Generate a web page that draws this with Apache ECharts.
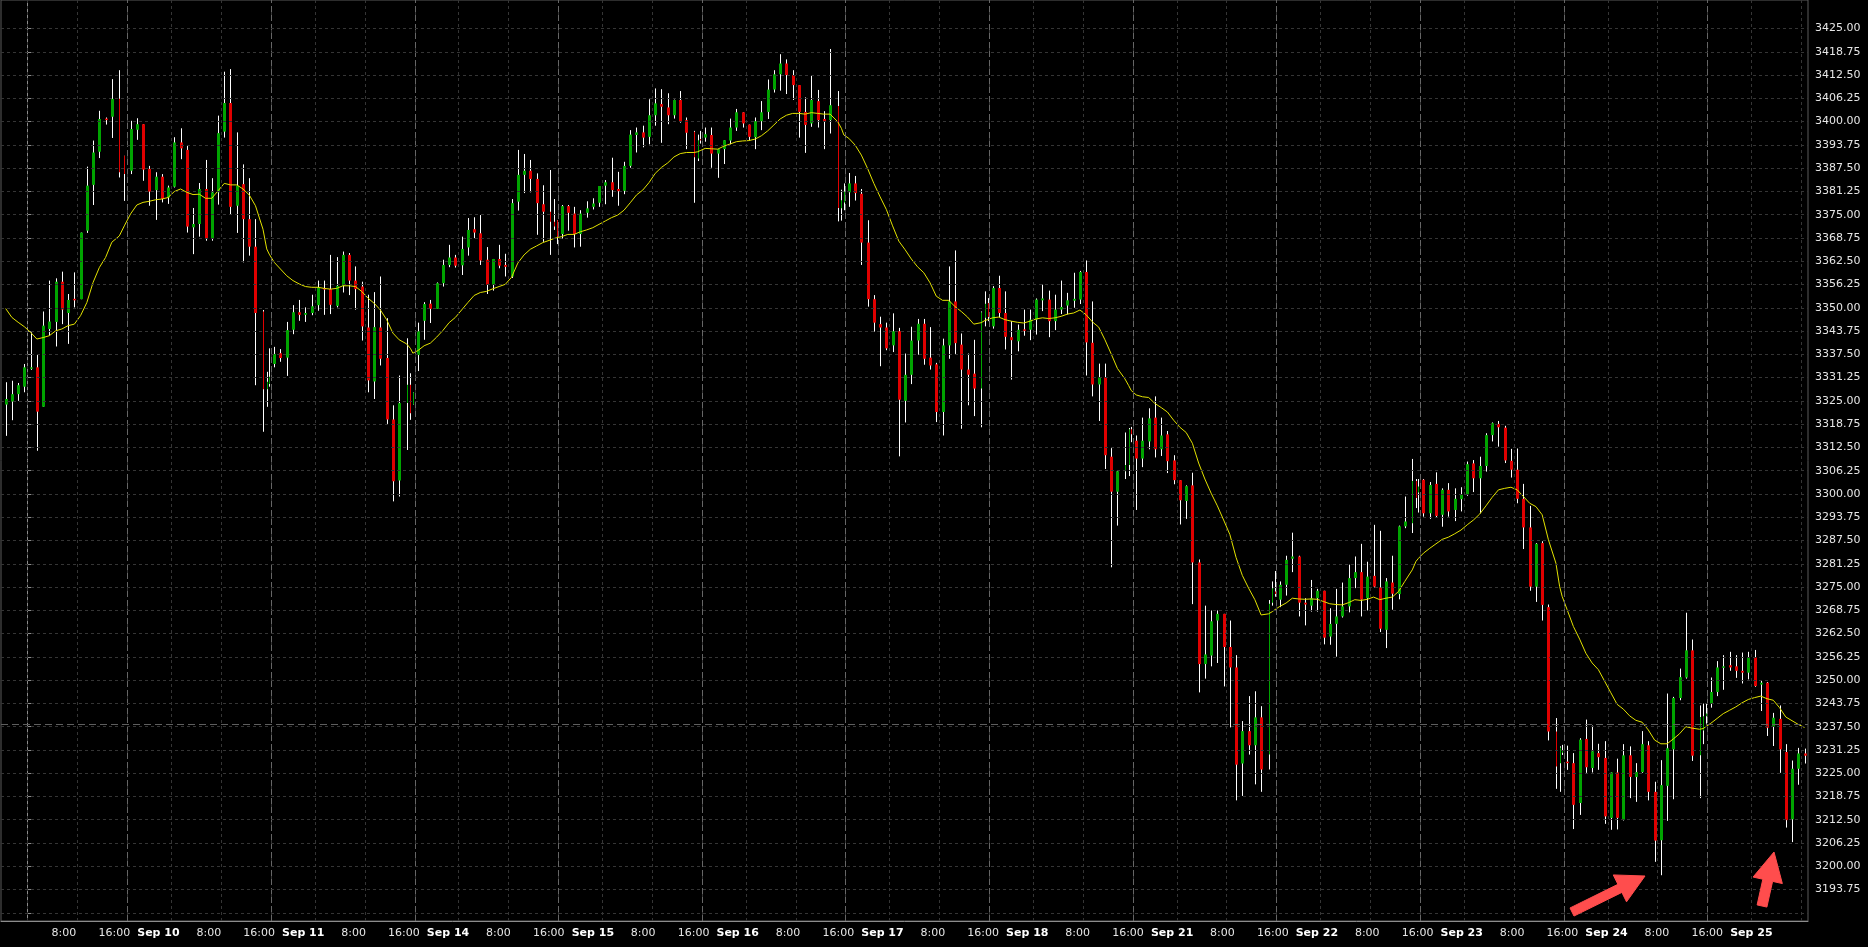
<!DOCTYPE html>
<html>
<head>
<meta charset="utf-8">
<script src="https://cdn.jsdelivr.net/npm/echarts@6/dist/echarts.min.js"></script>
<style>html,body{margin:0;padding:0;background:#000;}#main{width:1868px;height:947px;}</style>
</head>
<body>
<div id="main"></div>
<script>
// Bar position in trading hours since Sep 9 00:00 (non-trading time removed)
const barHour = [-3.5,-2.5,-1.5,-0.5,0.5,1.5,2.5,3.5,4.5,5.5,
6.5,7.5,8.5,9.5,10.5,11.5,12.5,13.5,14.7,15.5,
16.5,17.5,18.5,19.5,20.5,21.5,22.5,23.5,24.5,25.5,
26.5,27.5,28.5,29.5,30.5,31.5,32.5,33.5,34.5,35.5,
36.5,37.7,38.3,38.7,39.5,40.5,41.5,42.5,43.5,44.5,
45.5,46.5,47.5,48.5,49.5,50.5,51.5,52.5,53.5,54.5,
55.5,56.5,57.5,58.5,59.5,60.7,61.3,61.7,62.5,63.5,
64.5,65.5,66.5,67.5,68.5,69.5,70.5,71.5,72.5,73.5,
74.5,75.5,76.5,77.5,78.5,79.5,80.5,81.5,82.5,83.7,
84.3,84.7,85.5,86.5,87.5,88.5,89.5,90.5,91.5,92.5,
93.5,94.5,95.5,96.5,97.5,98.5,99.5,100.5,101.5,102.5,
103.5,104.5,105.5,106.7,107.3,107.7,108.5,109.5,110.5,111.5,
112.5,113.5,114.5,115.5,116.5,117.5,118.5,119.5,120.5,121.5,
122.5,123.5,124.5,125.5,126.5,127.5,128.5,129.7,130.3,130.7,
131.5,132.5,133.5,134.5,135.5,136.5,137.5,138.5,139.5,140.5,
141.5,142.5,143.5,144.5,145.5,146.5,147.5,148.5,149.5,150.5,
151.5,152.7,153.3,153.7,154.5,155.5,156.5,157.5,158.5,159.5,
160.5,161.5,162.5,163.5,164.5,165.5,166.5,167.5,168.5,169.5,
170.5,171.5,172.5,173.5,174.5,175.7,176.3,176.7,177.5,178.5,
179.5,180.5,181.5,182.5,183.5,184.5,185.5,186.5,187.5,188.5,
189.5,190.5,191.5,192.5,193.5,194.5,195.5,196.5,197.5,198.7,
199.3,199.7,200.5,201.5,202.5,203.5,204.5,205.5,206.5,207.5,
208.5,209.5,210.5,211.5,212.5,213.5,214.5,215.5,216.5,217.5,
218.5,219.5,220.5,221.7,222.3,222.7,223.5,224.5,225.5,226.5,
227.5,228.5,229.5,230.5,231.5,232.5,233.5,234.5,235.5,236.5,
237.5,238.5,239.5,240.5,241.5,242.5,243.5,244.7,245.3,245.7,
246.5,247.5,248.5,249.5,250.5,251.5,252.5,253.5,254.5,255.5,
256.5,257.5,258.5,259.5,260.5,261.5,262.5,263.5,264.5,265.5,
266.5,267.7,268.3,268.7,269.5,270.5,271.5,272.5,273.5,274.5,
275.5,276.5,277.5,278.5,279.5,280.5,281.5,282.5,283.5,284.5];

// Short bars at the end of each session (drawn thin)
const thinBars = [18,19,41,42,43,65,66,67,89,90,91,113,114,115,137,138,139,161,162,163,
185,186,187,209,210,211,233,234,235,257,258,259,281,282,283];

const openP = [
3324.0,3324.8,3326.8,3328.8,3333.6,3334.0,3323.4,3344.3,3346.2,3357.0,
3348.6,3352.4,3352.3,3370.7,3383.0,3391.9,3400.8,3401.3,3406.1,3390.8,
3386.8,3397.8,3399.3,3387.3,3381.6,3385.2,3379.6,3382.5,3394.4,3392.4,
3371.6,3372.5,3381.9,3368.7,3381.0,3397.3,3405.0,3377.4,3383.2,3373.8,
3366.4,3349.0,3328.1,3329.5,3334.9,3337.8,3336.6,3344.1,3348.8,3348.1,
3348.6,3350.7,3355.3,3355.0,3350.5,3355.9,3364.2,3357.3,3355.7,3344.7,
3330.2,3344.7,3336.5,3320.0,3303.6,3324.4,3329.3,3324.0,3337.3,3346.5,
3351.1,3349.7,3356.6,3361.5,3363.5,3361.4,3366.2,3371.1,3370.0,3362.9,
3356.2,3363.1,3361.5,3358.4,3378.5,3385.7,3386.8,3384.6,3377.8,3375.8,
3373.1,3373.5,3369.8,3377.3,3375.3,3369.8,3375.5,3377.1,3378.2,3382.8,
3383.7,3381.9,3381.4,3388.1,3396.4,3397.1,3395.9,3401.7,3404.7,3403.8,
3401.7,3405.8,3400.4,3397.3,3390.1,3395.3,3395.7,3396.4,3391.4,3392.6,
3394.9,3398.4,3402.5,3399.2,3395.8,3400.1,3402.6,3408.6,3412.7,3415.6,
3412.5,3409.8,3402.6,3399.5,3405.5,3400.7,3400.4,3404.2,3376.7,3378.3,
3381.0,3383.4,3380.6,3367.5,3352.3,3345.6,3344.7,3339.9,3343.7,3325.0,
3332.0,3341.2,3345.7,3336.6,3334.8,3322.0,3339.9,3351.7,3340.1,3333.4,
3332.3,3328.3,3347.3,3351.3,3345.0,3355.3,3348.6,3342.1,3341.0,3344.2,
3344.1,3346.8,3352.0,3352.2,3346.4,3349.5,3350.6,3351.9,3352.2,3359.6,
3340.6,3329.4,3331.3,3310.0,3300.6,3306.1,3307.8,3317.4,3314.3,3309.5,
3314.1,3320.5,3312.0,3316.0,3309.0,3303.7,3298.1,3302.3,3281.6,3254.3,
3256.6,3266.0,3267.8,3258.9,3253.4,3227.6,3236.3,3232.5,3240.0,3230.0,
3270.8,3273.8,3271.6,3275.6,3282.6,3283.2,3270.8,3270.0,3272.0,3274.0,
3261.7,3265.1,3267.1,3269.8,3277.4,3279.0,3272.0,3278.0,3274.9,3263.5,
3276.2,3273.1,3291.3,3292.1,3303.5,3300.4,3303.8,3294.8,3302.7,3294.4,
3301.1,3295.7,3298.6,3299.9,3308.2,3304.2,3307.5,3315.8,3318.8,3317.8,
3308.9,3306.5,3298.7,3291.0,3275.1,3286.8,3269.6,3236.2,3227.7,3230.5,
3228.1,3227.7,3217.0,3234.2,3226.4,3230.4,3229.1,3213.0,3225.2,3212.5,
3229.8,3224.0,3225.3,3232.5,3220.0,3207.0,3221.6,3231.4,3245.2,3250.7,
3258.0,3229.8,3236.5,3240.3,3243.7,3246.8,3253.3,3254.0,3253.7,3252.5,
3252.0,3256.1,3248.8,3249.3,3237.5,3239.6,3230.7,3212.6,3226.2,3230.3];

const highP = [
3330.0,3330.4,3329.8,3334.9,3343.4,3337.3,3349.0,3357.3,3357.9,3359.7,
3353.7,3359.5,3370.2,3387.9,3394.9,3402.9,3401.1,3411.4,3413.8,3390.8,
3400.2,3400.9,3399.3,3388.1,3386.4,3385.9,3382.8,3395.8,3398.2,3393.7,
3376.8,3383.5,3389.7,3384.8,3401.6,3413.4,3414.1,3397.1,3388.5,3384.8,
3373.8,3349.4,3332.8,3339.1,3339.5,3338.9,3346.2,3350.7,3352.1,3350.1,
3353.5,3357.3,3357.3,3364.2,3363.6,3365.1,3364.7,3361.1,3357.0,3353.5,
3354.2,3358.4,3347.2,3323.8,3331.8,3341.8,3332.4,3327.3,3346.0,3351.5,
3352.1,3356.8,3362.9,3366.9,3364.2,3369.1,3374.1,3374.3,3374.9,3366.3,
3363.1,3366.9,3364.5,3379.2,3392.4,3391.3,3389.7,3386.1,3382.9,3387.0,
3379.2,3373.5,3377.6,3377.6,3377.1,3376.2,3378.6,3379.4,3382.7,3384.3,
3390.3,3386.5,3389.2,3397.7,3398.4,3398.9,3406.0,3408.9,3408.7,3407.6,
3405.9,3408.2,3401.1,3397.5,3396.5,3397.5,3398.4,3398.4,3392.6,3395.0,
3400.8,3403.4,3402.5,3399.2,3401.1,3405.5,3411.3,3413.8,3418.1,3416.7,
3413.8,3409.8,3406.5,3412.5,3408.5,3402.8,3419.5,3408.2,3381.7,3383.4,
3386.2,3385.4,3381.9,3373.5,3353.4,3347.6,3346.0,3348.5,3344.6,3337.7,
3344.9,3347.0,3347.0,3344.8,3335.2,3341.7,3361.1,3365.4,3343.1,3337.7,
3341.4,3349.0,3354.4,3352.6,3355.8,3358.6,3354.4,3346.4,3345.5,3349.5,
3349.5,3352.5,3356.2,3354.6,3353.5,3357.3,3354.0,3359.4,3359.9,3362.7,
3351.7,3335.0,3335.0,3312.3,3306.4,3316.5,3317.7,3318.0,3315.7,3320.5,
3323.0,3326.2,3320.5,3316.9,3310.4,3303.7,3302.3,3305.7,3282.4,3270.0,
3268.7,3268.7,3267.8,3266.0,3256.7,3239.0,3245.7,3247.0,3243.0,3271.5,
3276.5,3279.3,3276.5,3283.4,3289.6,3283.4,3272.0,3276.9,3274.5,3274.0,
3269.3,3274.5,3276.2,3281.0,3283.2,3286.6,3281.8,3291.7,3290.1,3277.4,
3283.4,3291.5,3299.3,3309.4,3304.0,3304.0,3304.0,3303.2,3305.8,3301.5,
3302.9,3301.5,3301.8,3308.7,3309.1,3310.0,3316.3,3319.2,3319.6,3318.3,
3312.1,3312.2,3302.7,3296.8,3286.8,3287.3,3270.3,3239.8,3232.2,3232.6,
3232.4,3230.4,3234.4,3239.4,3237.8,3232.9,3233.6,3225.2,3228.9,3232.8,
3232.2,3227.7,3236.3,3233.6,3222.7,3228.5,3246.4,3245.5,3253.1,3268.1,
3260.9,3243.2,3243.7,3243.7,3250.7,3255.1,3256.7,3257.6,3256.7,3257.4,
3257.6,3258.1,3250.0,3249.5,3241.2,3243.2,3232.8,3228.4,3231.8,3231.6];

const lowP = [
3315.6,3319.8,3325.0,3327.3,3333.3,3311.6,3323.4,3342.5,3339.6,3345.6,
3340.3,3350.1,3352.3,3370.1,3377.6,3390.2,3399.2,3395.6,3385.0,3378.7,
3385.9,3395.1,3384.1,3377.4,3373.6,3378.3,3377.9,3382.3,3389.9,3370.2,
3364.4,3369.1,3368.0,3368.0,3377.7,3395.7,3375.0,3370.1,3362.2,3364.0,
3329.2,3316.7,3323.4,3328.8,3334.0,3335.5,3331.7,3342.9,3346.5,3346.2,
3348.0,3349.2,3348.1,3348.3,3350.1,3354.1,3353.4,3349.5,3341.2,3327.3,
3325.5,3334.5,3318.8,3298.0,3299.3,3311.8,3319.9,3324.0,3333.0,3341.4,
3345.9,3349.7,3355.7,3360.9,3360.8,3358.8,3364.0,3368.7,3361.5,3353.7,
3354.6,3360.6,3358.4,3358.0,3376.1,3380.8,3381.0,3369.6,3367.7,3364.2,
3370.9,3367.1,3368.6,3370.7,3366.2,3366.4,3374.2,3376.4,3377.1,3377.8,
3379.8,3377.4,3380.5,3387.6,3391.7,3393.1,3393.9,3398.9,3394.3,3399.3,
3400.8,3399.7,3392.6,3378.2,3389.4,3394.1,3394.6,3387.6,3384.9,3388.6,
3393.9,3397.5,3398.4,3394.9,3392.6,3397.7,3400.7,3407.8,3408.3,3407.4,
3405.8,3395.7,3391.6,3398.6,3398.4,3392.6,3396.8,3373.2,3373.4,3376.2,
3377.1,3378.8,3361.5,3350.3,3343.6,3334.3,3338.6,3338.1,3310.1,3319.2,
3329.5,3337.4,3334.7,3333.4,3319.3,3315.7,3336.3,3337.6,3317.5,3323.8,
3320.9,3317.9,3345.0,3346.4,3344.4,3347.5,3338.8,3330.7,3338.3,3342.5,
3341.3,3342.8,3349.1,3342.1,3344.0,3348.3,3348.2,3350.0,3351.0,3331.8,
3326.2,3319.6,3306.7,3280.3,3291.5,3304.0,3304.8,3313.9,3295.7,3307.2,
3312.0,3309.8,3310.2,3305.6,3302.6,3291.8,3293.3,3270.4,3246.7,3250.4,
3253.7,3254.6,3248.3,3237.3,3217.7,3218.9,3230.0,3222.0,3220.0,3226.0,
3270.0,3272.4,3269.6,3272.7,3279.0,3267.1,3264.7,3268.4,3268.4,3259.6,
3259.5,3256.3,3266.8,3268.2,3274.7,3267.1,3268.7,3274.9,3262.9,3258.6,
3268.9,3271.7,3290.8,3289.5,3296.2,3295.0,3293.9,3293.3,3293.7,3291.2,
3293.9,3292.7,3295.3,3299.5,3300.5,3294.8,3306.0,3314.1,3312.7,3308.3,
3304.4,3297.5,3285.2,3274.0,3271.0,3266.0,3233.8,3220.8,3220.0,3229.9,
3225.9,3210.0,3213.8,3225.1,3225.2,3225.9,3211.4,3209.8,3209.9,3212.3,
3218.3,3217.3,3225.1,3217.7,3201.2,3197.6,3212.2,3218.0,3244.6,3250.4,
3228.3,3218.3,3232.8,3238.3,3242.6,3245.7,3247.4,3252.5,3250.6,3249.1,
3250.2,3248.2,3241.7,3235.0,3232.3,3225.1,3210.4,3206.5,3221.9,3227.6];

const closeP = [
3325.5,3326.8,3329.2,3334.0,3334.0,3322.1,3345.2,3346.3,3357.0,3349.5,
3352.1,3352.0,3370.2,3382.8,3391.7,3400.7,3400.4,3406.1,3386.4,3385.9,
3398.0,3399.3,3387.1,3381.2,3385.2,3379.2,3382.3,3394.4,3392.8,3371.8,
3372.5,3381.9,3368.5,3381.0,3396.9,3405.0,3377.1,3382.8,3373.8,3366.4,
3348.6,3328.1,3330.1,3331.5,3337.6,3336.5,3344.0,3348.8,3348.1,3348.6,
3350.4,3355.5,3354.9,3350.8,3355.9,3364.2,3357.3,3355.0,3345.0,3330.5,
3344.8,3336.3,3320.0,3303.4,3324.4,3329.3,3321.7,3327.3,3343.7,3351.0,
3349.7,3356.6,3361.5,3363.5,3361.3,3365.8,3370.9,3370.2,3362.7,3356.2,
3363.1,3361.3,3361.0,3378.1,3385.7,3386.8,3384.6,3378.1,3375.8,3373.1,
3371.8,3369.1,3377.3,3375.5,3369.8,3375.3,3376.7,3378.0,3382.7,3383.7,
3381.6,3381.3,3388.1,3396.5,3397.1,3395.7,3401.7,3404.9,3404.0,3401.7,
3405.8,3400.0,3397.0,3390.4,3395.0,3394.9,3396.6,3391.4,3392.6,3395.0,
3398.4,3402.5,3399.5,3395.9,3400.1,3402.5,3408.6,3412.7,3415.6,3412.5,
3409.8,3402.6,3399.1,3405.8,3400.4,3400.1,3404.4,3376.8,3378.9,3381.2,
3383.4,3380.8,3367.5,3352.3,3346.0,3344.7,3339.1,3343.7,3325.3,3332.0,
3341.2,3345.7,3336.3,3334.5,3322.0,3339.9,3351.7,3340.5,3333.4,3332.0,
3328.3,3348.8,3351.1,3347.5,3355.3,3348.6,3342.2,3341.3,3344.1,3343.8,
3346.8,3352.2,3352.5,3346.4,3349.5,3350.2,3352.0,3352.4,3359.6,3340.7,
3329.4,3331.3,3310.4,3300.6,3306.1,3307.8,3317.4,3316.0,3309.5,3314.3,
3320.3,3312.0,3315.7,3308.8,3303.7,3298.3,3302.1,3281.6,3254.3,3256.9,
3265.8,3267.8,3258.9,3253.4,3227.3,3236.3,3232.5,3240.0,3226.0,3270.5,
3274.7,3273.1,3275.6,3282.3,3283.2,3270.8,3270.3,3272.0,3274.0,3261.4,
3265.1,3267.1,3269.8,3277.4,3279.0,3271.6,3277.8,3275.1,3263.8,3276.5,
3273.2,3291.3,3292.6,3303.5,3298.9,3302.0,3294.8,3302.4,3294.1,3301.1,
3295.3,3298.7,3299.8,3308.0,3304.2,3307.5,3315.8,3319.0,3317.9,3309.0,
3306.5,3298.7,3291.0,3275.1,3286.6,3270.2,3236.2,3226.8,3231.9,3231.0,
3227.7,3216.5,3234.0,3226.6,3230.9,3229.3,3213.4,3225.2,3213.0,3229.8,
3224.0,3225.3,3232.8,3220.0,3206.9,3221.8,3231.7,3245.2,3250.8,3258.0,
3229.7,3240.1,3240.3,3241.0,3246.8,3253.4,3253.7,3253.4,3252.5,3252.0,
3256.1,3248.4,3249.3,3237.2,3239.9,3231.4,3212.4,3226.2,3230.3,3229.7];

// Moving average (yellow line)
const maLine = [
3349.8,3347.4,3346.1,3344.9,3343.4,3341.6,3342.0,3342.5,3343.8,3344.3,
3345.2,3345.6,3347.9,3351.4,3356.8,3360.8,3363.5,3367.6,3369.3,3372.0,
3375.2,3377.6,3378.3,3378.6,3379.0,3379.2,3379.6,3381.2,3381.9,3381.0,
3380.4,3380.5,3379.4,3379.4,3381.4,3383.4,3383.0,3383.0,3381.9,3380.3,
3377.4,3371.1,3365.8,3364.4,3362.2,3360.4,3358.6,3357.3,3356.4,3355.7,
3355.5,3355.5,3355.2,3355.0,3355.2,3355.9,3355.9,3355.7,3354.4,3352.6,
3351.2,3349.4,3346.8,3343.2,3341.4,3340.3,3339.1,3337.8,3338.5,3339.8,
3340.5,3342.1,3343.9,3346.0,3347.4,3349.4,3351.4,3353.3,3354.1,3354.4,
3355.1,3355.7,3356.3,3358.2,3362.0,3364.2,3365.7,3366.6,3367.5,3368.2,
3368.6,3368.8,3369.1,3369.7,3369.7,3370.4,3370.9,3371.5,3372.4,3373.3,
3374.2,3374.9,3376.2,3378.2,3380.3,3381.6,3383.6,3386.1,3387.7,3388.9,
3390.5,3391.4,3391.7,3391.7,3391.9,3392.2,3392.8,3392.7,3392.6,3393.4,
3394.0,3394.6,3394.8,3394.9,3395.3,3396.2,3397.5,3399.1,3400.7,3401.7,
3402.2,3402.2,3402.0,3402.4,3402.2,3402.0,3402.0,3400.0,3398.2,3396.4,
3395.5,3393.7,3391.0,3387.4,3383.4,3379.8,3376.4,3372.0,3367.9,3365.6,
3363.1,3361.0,3359.4,3356.7,3353.1,3352.0,3352.0,3350.3,3349.0,3347.5,
3345.6,3346.0,3346.6,3346.8,3347.3,3347.5,3346.8,3346.4,3346.1,3345.9,
3346.4,3347.0,3347.3,3347.1,3347.3,3347.7,3348.3,3348.6,3349.4,3348.1,
3346.2,3344.8,3341.4,3337.6,3333.7,3330.9,3329.1,3327.8,3326.6,3326.1,
3325.9,3324.3,3323.2,3322.0,3319.8,3317.9,3316.5,3313.6,3308.3,3304.0,
3300.2,3296.8,3293.0,3289.1,3282.9,3278.1,3274.7,3271.6,3267.5,3267.8,
3268.4,3268.9,3269.8,3270.7,3272.0,3271.8,3271.7,3271.8,3271.7,3271.1,
3270.5,3270.3,3270.2,3270.8,3271.6,3271.4,3271.7,3272.3,3271.6,3272.0,
3272.3,3273.8,3276.5,3279.6,3281.9,3282.7,3284.1,3285.4,3286.6,3287.8,
3288.4,3289.3,3290.3,3291.7,3293.0,3294.6,3296.8,3299.1,3301.1,3301.5,
3301.8,3301.1,3299.3,3297.5,3296.6,3294.4,3287.7,3281.4,3275.1,3272.5,
3268.9,3264.4,3261.0,3257.2,3254.6,3252.8,3249.7,3246.6,3243.5,3242.2,
3240.4,3239.2,3238.7,3236.6,3233.9,3232.9,3232.9,3234.2,3235.6,3237.5,
3237.1,3236.8,3237.0,3237.5,3238.4,3239.7,3241.0,3241.9,3242.8,3243.9,
3244.8,3245.3,3245.7,3245.0,3244.6,3242.6,3240.1,3239.1,3238.1,3237.3];

// Time axis: grid lines (trading hours since Sep 9 00:00) and their labels
const gridHours = [0,8,16,23,31,39,46,54,62,69,77,85,92,100,108,115,123,131,138,146,154,161,169,177,184,192,200,207,215,223,230,238,246,253,261,269,276,284];
const sessionHours = [16,39,62,85,108,131,154,177,200,223,246,269];
const labelHours = [8,16,23,31,39,46,54,62,69,77,85,92,100,108,115,123,131,138,146,154,161,169,177,184,192,200,207,215,223,230,238,246,253,261,269,276];
const labelTexts = ['8:00','16:00','Sep 10','8:00','16:00','Sep 11','8:00','16:00','Sep 14','8:00','16:00','Sep 15','8:00','16:00','Sep 16','8:00','16:00','Sep 17','8:00','16:00','Sep 18','8:00','16:00','Sep 21','8:00','16:00','Sep 22','8:00','16:00','Sep 23','8:00','16:00','Sep 24','8:00','16:00','Sep 25'];

// Price axis ticks
const priceLabels = [3193.75,3200,3206.25,3212.5,3218.75,3225,3231.25,3237.5,3243.75,3250,3256.25,3262.5,3268.75,3275,3281.25,3287.5,3293.75,3300,3306.25,3312.5,3318.75,3325,3331.25,3337.5,3343.75,3350,3356.25,3362.5,3368.75,3375,3381.25,3387.5,3393.75,3400,3406.25,3412.5,3418.75,3425];
const priceTicks = [3187.5].concat(priceLabels);
const levelLine = 3238.1;

[openP, highP, lowP, closeP, maLine].forEach((a, k) => {
  if (a.length !== barHour.length) throw new Error('length mismatch in array ' + k + ': ' + a.length);
});

const thinSet = new Set(thinBars);
const candleData = barHour.map((t, i) => [t, openP[i], closeP[i], lowP[i], highP[i], thinSet.has(i) ? 1 : 0]);
const maData = barHour.map((t, i) => [t, maLine[i]]);

function renderCandle(params, api) {
  const t = api.value(0), o = api.value(1), c = api.value(2), l = api.value(3), h = api.value(4), thin = api.value(5);
  const pO = api.coord([t, o]), pC = api.coord([t, c]), pL = api.coord([t, l]), pH = api.coord([t, h]);
  const x = Math.round(pO[0]);
  const w = thin ? 1 : 3;
  const top = Math.min(pO[1], pC[1]), bot = Math.max(pO[1], pC[1]);
  const color = c >= o ? '#00a400' : '#e00000';
  return {
    type: 'group',
    children: [
      { type: 'line', shape: { x1: x + 0.5, y1: pH[1], x2: x + 0.5, y2: pL[1] }, style: { stroke: '#ffffff', lineWidth: 1 } },
      { type: 'rect', shape: { x: x - (w - 1) / 2, y: top, width: w, height: Math.max(bot - top, 1.2) }, style: { fill: color } }
    ]
  };
}

const chart = echarts.init(document.getElementById('main'));

const gridLineData = gridHours.map(h => ({ xAxis: h, lineStyle: { color: '#353535', type: [3, 3], width: 1 } }))
  .concat(sessionHours.map(h => ({ xAxis: h, lineStyle: { color: '#666666', type: [6, 3], width: 1 } })))
  .concat(priceTicks.map(v => ({ yAxis: v, lineStyle: { color: '#353535', type: [3, 3], width: 1 } })))
  .concat([{ yAxis: levelLine, lineStyle: { color: '#5e5e5e', type: [7, 4], width: 1 } }]);

function arrowPoints(tail, tip, shaftW, headLen, headW) {
  const dx = tip[0] - tail[0], dy = tip[1] - tail[1];
  const len = Math.hypot(dx, dy);
  const ux = dx / len, uy = dy / len, nx = -uy, ny = ux;
  const bx = tip[0] - ux * headLen, by = tip[1] - uy * headLen;
  return [
    [tail[0] + nx * shaftW / 2, tail[1] + ny * shaftW / 2],
    [bx + nx * shaftW / 2, by + ny * shaftW / 2],
    [bx + nx * headW / 2, by + ny * headW / 2],
    [tip[0], tip[1]],
    [bx - nx * headW / 2, by - ny * headW / 2],
    [bx - nx * shaftW / 2, by - ny * shaftW / 2],
    [tail[0] - nx * shaftW / 2, tail[1] - ny * shaftW / 2]
  ];
}

const option = {
  backgroundColor: '#000000',
  animation: false,
  grid: { left: 1, top: 0, width: 1807, height: 921, show: true, borderColor: '#5a5a5a', borderWidth: 1, backgroundColor: '#000000', outerBoundsMode: 'none' },
  xAxis: [
    { type: 'value', position: 'top', min: -4.243, max: 285.06, axisLine: { show: false }, axisTick: { show: false }, axisLabel: { show: false }, splitLine: { show: false } },
    { type: 'value', position: 'bottom', min: -2.0, max: 285.0,
      axisLine: { show: true, lineStyle: { color: '#8c8c8c', width: 1 } },
      axisTick: { show: false }, splitLine: { show: false },
      axisLabel: {
        customValues: labelHours, margin: 7, color: '#e6e6e6', fontSize: 11, fontFamily: 'DejaVu Sans',
        formatter: function (v) {
          let k = -1;
          for (let i = 0; i < labelHours.length; i++) if (Math.abs(labelHours[i] - v) < 0.01) k = i;
          if (k < 0) return '';
          const s = labelTexts[k];
          return s.indexOf('Sep') === 0 ? '{d|' + s + '}' : '{t|' + s + '}';
        },
        rich: {
          d: { fontWeight: 'bold', fontSize: 11, fontFamily: 'DejaVu Sans', color: '#ffffff' },
          t: { fontSize: 11, fontFamily: 'DejaVu Sans', color: '#e6e6e6' }
        }
      }
    }
  ],
  yAxis: {
    type: 'value', position: 'right', min: 3185.306, max: 3432.654,
    axisLine: { show: true, lineStyle: { color: '#8c8c8c', width: 1 } },
    axisTick: { show: true, customValues: priceTicks, length: 4, lineStyle: { color: '#8c8c8c' } },
    axisLabel: { customValues: priceLabels, margin: 7, color: '#e6e6e6', fontSize: 11, fontFamily: 'DejaVu Sans', formatter: v => v.toFixed(2) },
    splitLine: { show: false }
  },
  series: [
    {
      type: 'line', xAxisIndex: 0, yAxisIndex: 0, data: [[-100, 3300]], symbol: 'none', silent: true,
      lineStyle: { opacity: 0 }, z: 1,
      markLine: { silent: true, symbol: 'none', animation: false, label: { show: false }, emphasis: { disabled: true }, data: gridLineData }
    },
    {
      type: 'custom', xAxisIndex: 0, yAxisIndex: 0, data: candleData, renderItem: renderCandle,
      encode: { x: 0, y: [1, 2, 3, 4] }, clip: true, silent: true, z: 3
    },
    {
      type: 'line', xAxisIndex: 0, yAxisIndex: 0, data: maData, symbol: 'none', silent: true, z: 4,
      lineStyle: { color: '#e3e300', width: 1 }
    }
  ],
  graphic: [
    { type: 'polygon', z: 100, shape: { points: arrowPoints([1572, 912], [1645, 876], 9, 28, 30) }, style: { fill: '#ff4d4d', stroke: '#ff4d4d', lineWidth: 1, lineJoin: 'round' } },
    { type: 'polygon', z: 100, shape: { points: arrowPoints([1762, 906], [1774, 852], 10, 29, 30) }, style: { fill: '#ff4d4d', stroke: '#ff4d4d', lineWidth: 1, lineJoin: 'round' } }
  ]
};
chart.setOption(option);
</script>
</body>
</html>
